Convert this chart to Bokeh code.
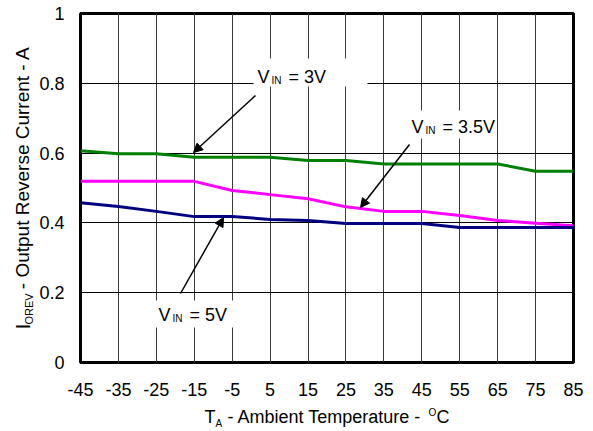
import math
from bokeh.plotting import figure
from bokeh.layouts import row, column
from bokeh.models import Range1d, FixedTicker, Label, BoxAnnotation, Arrow, NormalHead
from bokeh.core.properties import value
from bokeh.embed import file_html
from bokeh.resources import INLINE

# ---------------- data ----------------
temps = [-45, -35, -25, -15, -5, 5, 15, 25, 35, 45, 55, 65, 75, 85]
irev_3v = [0.607, 0.598, 0.598, 0.588, 0.588, 0.588, 0.579, 0.579, 0.569, 0.569, 0.569, 0.569, 0.548, 0.548]
irev_3v5 = [0.519, 0.519, 0.519, 0.519, 0.493, 0.481, 0.469, 0.446, 0.433, 0.433, 0.421, 0.407, 0.399, 0.392]
irev_5v = [0.458, 0.447, 0.433, 0.418, 0.418, 0.410, 0.407, 0.398, 0.398, 0.398, 0.387, 0.387, 0.387, 0.387]

x_ticks = [-45, -35, -25, -15, -5, 5, 15, 25, 35, 45, 55, 65, 75, 85]
x_tick_labels = ["-45", "-35", "-25", "-15", "-5", "5", "15", "25", "35", "45", "55", "65", "75", "85"]
y_ticks = [0, 0.2, 0.4, 0.6, 0.8, 1.0]
y_tick_labels = ["0", "0.2", "0.4", "0.6", "0.8", "1"]

FONT = "Liberation Sans"

# overall layout (page pixels)
TOTAL_W, TOTAL_H = 592, 430
YT_W = 36            # width of the strip holding the rotated y title
MAIN_H = 400         # height of the main plot canvas
XT_H = TOTAL_H - MAIN_H

# frame geometry in page pixels
FX0, FX1, FY0, FY1 = 80.0, 573.0, 13.0, 362.0
XMIN, XMAX, YMIN, YMAX = -45.0, 85.0, 0.0, 1.0

BASE_SHIFT = 0.38    # empirical baseline correction (fraction of font size)


def dx(px):
    return XMIN + (px - FX0) * (XMAX - XMIN) / (FX1 - FX0)


def dy(py):
    return YMIN + (FY1 - py) * (YMAX - YMIN) / (FY1 - FY0)


main_w = TOTAL_W - YT_W
p = figure(width=main_w, height=MAIN_H, title=None,
           x_range=Range1d(XMIN, XMAX), y_range=Range1d(YMIN, YMAX),
           output_backend="svg", toolbar_location=None,
           min_border_left=int(FX0 - YT_W), min_border_right=int(TOTAL_W - FX1),
           min_border_top=int(FY0), min_border_bottom=int(MAIN_H - FY1))

p.background_fill_color = "white"
p.border_fill_color = "white"
p.outline_line_color = "black"
p.outline_line_width = 3

p.xaxis.ticker = FixedTicker(ticks=x_ticks)
p.yaxis.ticker = FixedTicker(ticks=y_ticks)
p.xaxis.major_label_overrides = dict(zip(x_ticks, x_tick_labels))
p.yaxis.major_label_overrides = dict(zip(y_ticks, y_tick_labels))

for ax in (p.xaxis, p.yaxis):
    ax.axis_line_color = None
    ax.major_tick_line_color = None
    ax.minor_tick_line_color = None
    ax.major_label_text_font = FONT
    ax.major_label_text_font_size = "18px"
    ax.major_label_text_color = "black"
p.xaxis.major_label_standoff = 14
p.yaxis.major_label_standoff = 10

p.xgrid.grid_line_color = "#3a3a3a"
p.xgrid.grid_line_width = 1
p.ygrid.grid_line_color = "black"
p.ygrid.grid_line_width = 1

p.line(temps, irev_3v, line_color="#008000", line_width=3, line_join="round")
p.line(temps, irev_3v5, line_color="#FF00FF", line_width=3, line_join="round")
p.line(temps, irev_5v, line_color="#000080", line_width=3, line_join="round")

# white boxes behind annotation texts
for (l, r, t, b) in [(253, 367, 58, 86), (400, 495, 110, 138), (150, 240, 300, 327)]:
    p.add_layout(BoxAnnotation(left=dx(l), right=dx(r), top=dy(t), bottom=dy(b),
                               fill_color="white", fill_alpha=1.0, line_color=None))

# arrows
for (x0, y0, x1, y1) in [(255, 95, 193, 152), (409, 144, 360, 207), (180, 293, 223, 217)]:
    p.add_layout(Arrow(x_start=dx(x0), y_start=dy(y0), x_end=dx(x1), y_end=dy(y1),
                       line_color="black", line_width=1.5,
                       end=NormalHead(size=9, fill_color="black", line_color="black")))


def lab(px, py, text, size):
    p.add_layout(Label(x=dx(px), y=dy(py - BASE_SHIFT * size), text=text, text_font=FONT,
                       text_font_size=f"{size}px", text_color="black",
                       text_align="left", text_baseline="alphabetic"))


for (vx, vy, rest) in [(257, 83, "= 3V"), (411, 133, "= 3.5V"), (158, 321, "= 5V")]:
    lab(vx, vy, "V", 18)
    lab(vx + 14, vy + 1, "IN", 10)
    lab(vx + 31, vy, rest, 18)


def strip(w, h):
    f = figure(width=w, height=h, title=None,
               x_range=Range1d(0, w), y_range=Range1d(0, h),
               x_axis_type=None, y_axis_type=None, output_backend="svg",
               toolbar_location=None, min_border=0)
    f.outline_line_color = None
    f.background_fill_color = "white"
    f.border_fill_color = "white"
    return f


# ---- y title strip: I_OREV - Output Reverse Current - A (rotated) ----
yt = strip(YT_W, MAIN_H)
ang = math.pi / 2
ROT_DY = 33   # empirical correction along the text direction
ROT_DX = -4


def ytxt(px, py, text, size):
    yt.text(x=[px + ROT_DX], y=[MAIN_H - (py + ROT_DY)], text=[text], angle=ang,
            text_font=value(FONT), text_font_size=value(f"{size}px"),
            text_color="black", text_align="left", text_baseline="alphabetic")


ytxt(26, 329, "I", 20)
ytxt(32, 323.5, "OREV", 11)
ytxt(26, 283, "- Output Reverse Current - A", 19)

# ---- x title strip: T_A - Ambient Temperature - °C ----
xt = strip(TOTAL_W, XT_H)


def xtxt(px, py, text, size):
    xt.text(x=[px], y=[TOTAL_H - (py - BASE_SHIFT * size)], text=[text],
            text_font=value(FONT), text_font_size=value(f"{size}px"),
            text_color="black", text_align="left", text_baseline="alphabetic")


x0 = 204
xtxt(x0, 423, "T", 18)
xtxt(x0 + 11, 426.5, "A", 10)
xtxt(x0 + 23, 423, "- Ambient Temperature -", 18)
xtxt(x0 + 224, 416, "O", 10)
xtxt(x0 + 232, 423, "C", 18)

layout = column(row(yt, p), xt)
open("out.html", "w").write(file_html(layout, INLINE))
